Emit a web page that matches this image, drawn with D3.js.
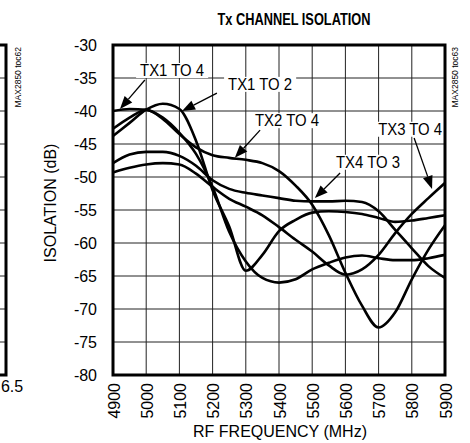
<!DOCTYPE html>
<html>
<head>
<meta charset="utf-8">
<script src="https://cdn.jsdelivr.net/npm/d3@7/dist/d3.min.js"></script>
<style>
  html, body { margin: 0; padding: 0; background: #fff; }
  svg { display: block; font-family: "Liberation Sans", Arial, sans-serif; }
</style>
</head>
<body>
<svg id="chart" width="470" height="443"></svg>
<script>
// Frequency sweep (MHz)
const freqs = [4900, 4950, 5000, 5050, 5100, 5150, 5200, 5250, 5300, 5350, 5400,
               5450, 5500, 5550, 5600, 5650, 5700, 5750, 5800, 5850, 5900];

// Isolation (dB) per transmitter pair
const tx1to4 = [-40.0, -39.7, -39.8, -41.0, -43.3, -46.5, -51.5, -58.3, -62.8, -65.3, -66.0,
                -65.5, -64.0, -63.0, -62.2, -61.9, -62.3, -62.6, -62.6, -62.3, -61.8];
const tx1to2 = [-43.8, -41.8, -39.8, -38.9, -39.7, -44.5, -52.0, -57.5, -64.2, -61.8, -58.2,
                -56.5, -55.4, -55.2, -55.3, -55.6, -56.2, -56.8, -56.6, -56.2, -55.8];
const tx2to4 = [-42.7, -41.0, -39.8, -41.2, -43.5, -45.5, -46.7, -47.1, -47.4, -47.9, -49.1,
                -51.3, -54.2, -58.8, -64.5, -69.5, -72.8, -70.5, -65.5, -61.0, -57.3];
const tx4to3 = [-47.9, -46.6, -46.2, -46.2, -46.8, -48.3, -50.5, -51.8, -52.4, -52.8, -53.2,
                -53.6, -53.7, -53.7, -53.6, -53.8, -55.2, -58.0, -60.8, -63.5, -65.3];
const tx3to4 = [-49.3, -48.6, -48.1, -47.9, -48.1, -49.5, -51.5, -53.3, -54.5, -55.8, -57.6,
                -59.5, -61.3, -63.4, -64.8, -64.0, -61.8, -58.5, -55.6, -53.2, -50.9];

const seriesList = [tx1to4, tx1to2, tx2to4, tx4to3, tx3to4];

// Axis ticks
const xTicks = [4900, 5000, 5100, 5200, 5300, 5400, 5500, 5600, 5700, 5800, 5900];
const yTicks = [-30, -35, -40, -45, -50, -55, -60, -65, -70, -75, -80];

// Curve callouts: label text, label baseline (MHz, dB), arrow tail and tip (MHz, dB)
const calloutNames = ["TX1 TO 4", "TX1 TO 2", "TX2 TO 4", "TX4 TO 3", "TX3 TO 4"];
const calloutText  = [[5078, -34.7], [5343, -36.8], [5424, -42.3], [5668, -48.6], [5795, -43.6]];
const calloutFrom  = [[4996, -35.3], [5213, -37.3], [5343, -42.9], [5584, -49.4], [5807, -44.1]];
const calloutTip   = [[4921, -39.7], [5108, -40.0], [5267, -47.1], [5508, -53.2], [5861, -51.8]];

const svg = d3.select("#chart");
const m = { left: 113, right: 445, top: 45, bottom: 375 };

const x = d3.scaleLinear().domain([4900, 5900]).range([m.left, m.right]);
const y = d3.scaleLinear().domain([-30, -80]).range([m.top, m.bottom]);

// Title
svg.append("text")
  .attr("x", 294).attr("y", 25)
  .attr("text-anchor", "middle")
  .attr("font-weight", "bold")
  .attr("font-size", 16.5)
  .attr("textLength", 153)
  .attr("lengthAdjust", "spacingAndGlyphs")
  .text("Tx CHANNEL ISOLATION");

// Neighbouring panel edge on the left
const leftPanel = svg.append("g");
yTicks.forEach(v => {
  leftPanel.append("line")
    .attr("x1", 0).attr("x2", 6)
    .attr("y1", y(v)).attr("y2", y(v))
    .attr("stroke", "#222").attr("stroke-width", 1);
});
leftPanel.append("path")
  .attr("d", `M0,${m.top}H6V${m.bottom}H0`)
  .attr("fill", "none").attr("stroke", "#000").attr("stroke-width", 3);
leftPanel.append("text")
  .attr("transform", `translate(21,${m.top + 2}) rotate(-90)`)
  .attr("text-anchor", "end")
  .attr("font-size", 8.5)
  .text("MAX2850 toc62");
leftPanel.append("text")
  .attr("x", 12).attr("y", 392)
  .attr("text-anchor", "middle")
  .attr("font-size", 16)
  .text("6.5");

// Grid
const grid = svg.append("g");
grid.selectAll("line.gx").data(xTicks).join("line")
  .attr("x1", d => x(d)).attr("x2", d => x(d))
  .attr("y1", m.top).attr("y2", m.bottom)
  .attr("stroke", "#222").attr("stroke-width", 1);
grid.selectAll("line.gy").data(yTicks).join("line")
  .attr("x1", m.left).attr("x2", m.right)
  .attr("y1", d => y(d)).attr("y2", d => y(d))
  .attr("stroke", "#222").attr("stroke-width", 1);

// Axes (labels only, frame drawn separately)
const xAxis = svg.append("g")
  .attr("transform", `translate(0,${m.bottom})`)
  .call(d3.axisBottom(x).tickValues(xTicks).tickSize(0).tickPadding(0).tickFormat(d3.format("d")));
xAxis.select(".domain").remove();
xAxis.selectAll("text")
  .attr("font-size", 16)
  .attr("font-family", "Liberation Sans, Arial, sans-serif")
  .attr("fill", "#000")
  .attr("text-anchor", "end")
  .attr("dy", null)
  .attr("transform", "translate(6,8) rotate(-90)");

const yAxis = svg.append("g")
  .attr("transform", `translate(${m.left},0)`)
  .call(d3.axisLeft(y).tickValues(yTicks).tickSize(0).tickPadding(16).tickFormat(d => d));
yAxis.select(".domain").remove();
yAxis.selectAll("text")
  .attr("font-size", 16)
  .attr("font-family", "Liberation Sans, Arial, sans-serif")
  .attr("fill", "#000");

// Axis titles
svg.append("text")
  .attr("x", 280).attr("y", 437)
  .attr("text-anchor", "middle")
  .attr("font-size", 16)
  .text("RF FREQUENCY (MHz)");
svg.append("text")
  .attr("transform", `translate(56,203) rotate(-90)`)
  .attr("text-anchor", "middle")
  .attr("font-size", 16)
  .text("ISOLATION (dB)");

// Curves
const line = d3.line()
  .x((d, i) => x(freqs[i]))
  .y(d => y(d))
  .curve(d3.curveMonotoneX);

svg.append("g").selectAll("path").data(seriesList).join("path")
  .attr("d", line)
  .attr("fill", "none")
  .attr("stroke", "#000")
  .attr("stroke-width", 2.6)
  .attr("stroke-linejoin", "round");

// Callouts: white label boxes with arrows
const callouts = svg.append("g");
calloutNames.forEach((name, i) => {
  const tx = x(calloutText[i][0]), ty = y(calloutText[i][1]);
  const t = callouts.append("text")
    .attr("x", tx).attr("y", ty)
    .attr("text-anchor", "middle")
    .attr("font-size", 16)
    .attr("textLength", 64)
    .attr("lengthAdjust", "spacingAndGlyphs")
    .text(name);
  const bb = t.node().getBBox();
  callouts.insert("rect", "text")
    .attr("x", bb.x - 4).attr("y", bb.y + 1)
    .attr("width", bb.width + 8).attr("height", bb.height - 2)
    .attr("fill", "#fff");

  const x0 = x(calloutFrom[i][0]), y0 = y(calloutFrom[i][1]);
  const x1 = x(calloutTip[i][0]), y1 = y(calloutTip[i][1]);
  const ang = Math.atan2(y1 - y0, x1 - x0);
  const headLen = 13, headW = 5;
  const bx = x1 - headLen * Math.cos(ang), by = y1 - headLen * Math.sin(ang);
  callouts.append("line")
    .attr("x1", x0).attr("y1", y0).attr("x2", bx).attr("y2", by)
    .attr("stroke", "#000").attr("stroke-width", 1.3);
  const px = -Math.sin(ang), py = Math.cos(ang);
  callouts.append("path")
    .attr("d", `M${x1},${y1}L${bx + px * headW},${by + py * headW}L${bx - px * headW},${by - py * headW}Z`)
    .attr("fill", "#000");
});

// Frame
svg.append("rect")
  .attr("x", m.left).attr("y", m.top)
  .attr("width", m.right - m.left).attr("height", m.bottom - m.top)
  .attr("fill", "none").attr("stroke", "#000").attr("stroke-width", 3);

// Chart code
svg.append("text")
  .attr("transform", `translate(458,${m.top + 2}) rotate(-90)`)
  .attr("text-anchor", "end")
  .attr("font-size", 8.5)
  .text("MAX2850 toc63");
</script>
</body>
</html>
